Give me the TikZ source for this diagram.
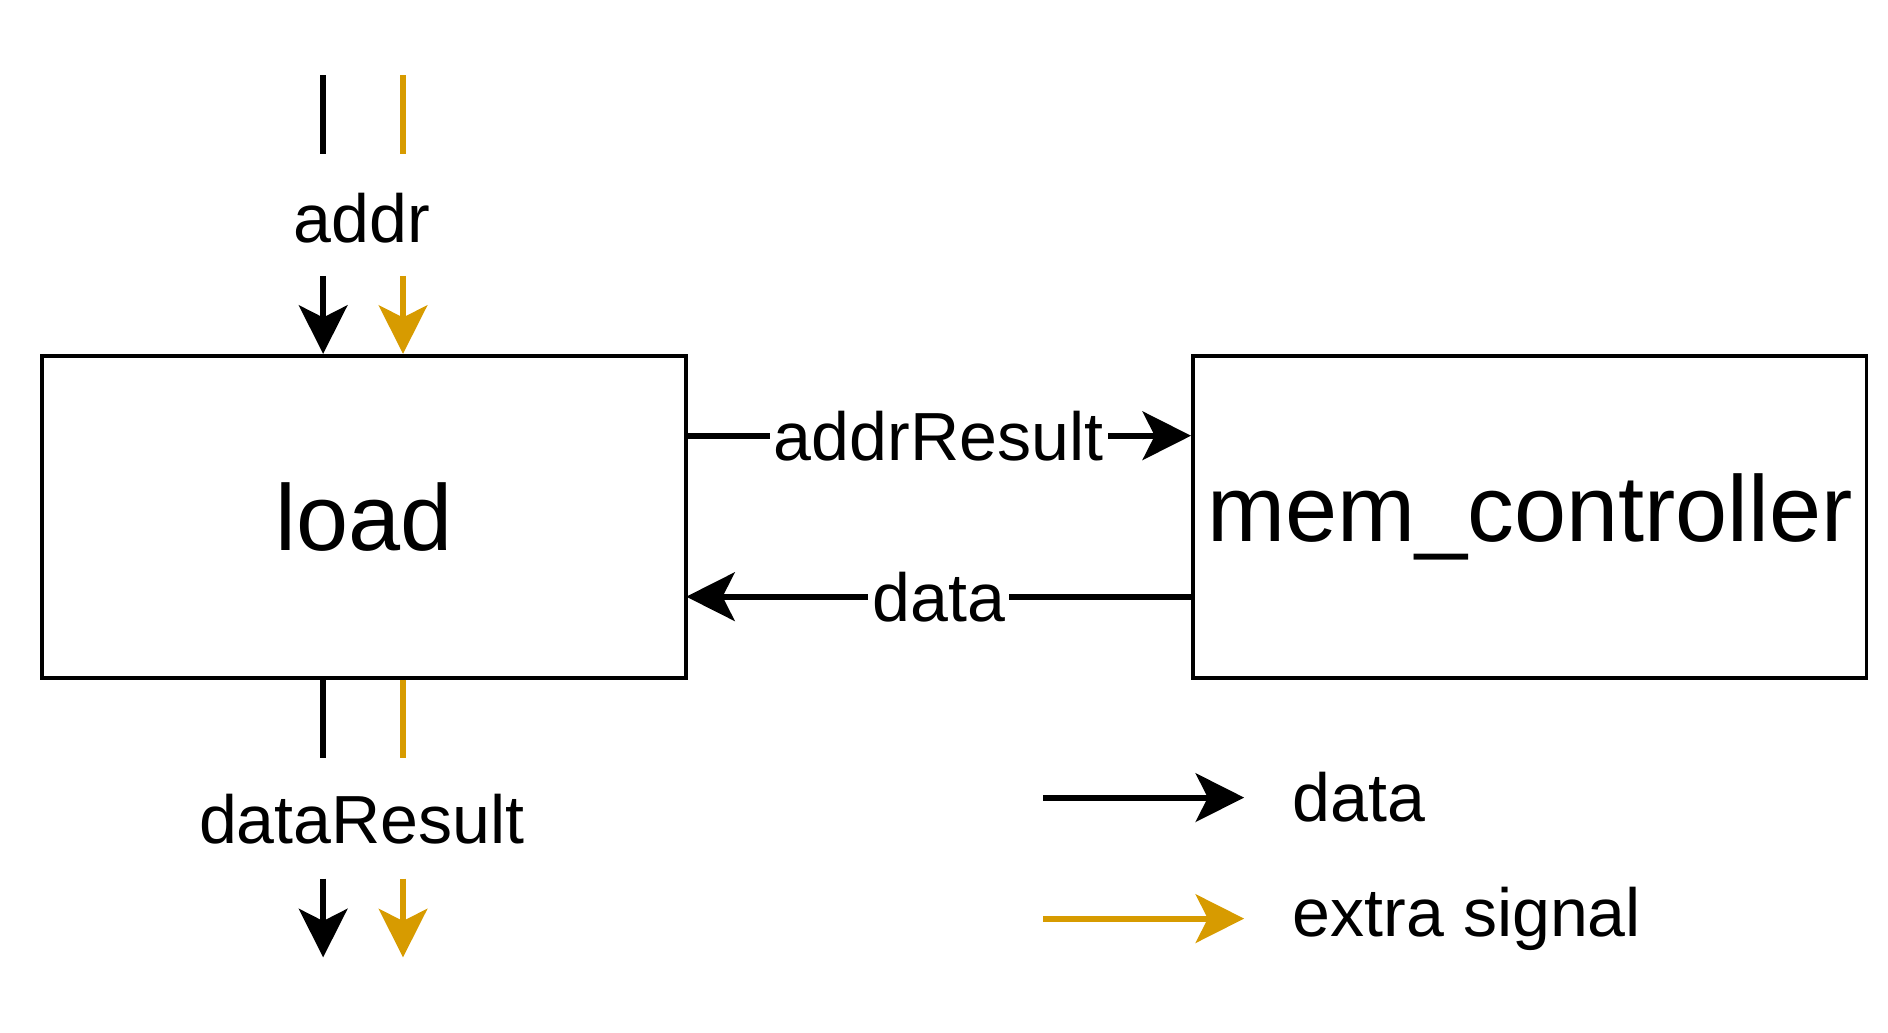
\documentclass[tikz,border=0pt]{standalone}
\usepackage{fontspec}
\setmainfont{Liberation Sans}
\usetikzlibrary{arrows.meta,positioning}
\definecolor{extra}{HTML}{D79B00}
\tikzset{
  block/.style={draw,line width=0.9pt,minimum width=5.32cm,minimum height=2.66cm,font=\fontsize{22}{26}\selectfont},
  sig/.style={line width=1.4pt},
  arr/.style={sig,-{Stealth[length=0.4cm,width=0.4cm,inset=0.1cm]}},
  lbl/.style={font=\fontsize{16}{19}\selectfont,fill=white,inner sep=1pt}
}
\begin{document}
\begin{tikzpicture}[x=0.01cm,y=-0.01cm]
  \useasboundingbox (0,0) rectangle (1560,853);
  \node[block] (load) at (301,427) {load};
  \node[block] (mem) at (1264,427) {mem\_controller};

  % input addr
  \coordinate (a1) at (267,62);  \coordinate (a2) at (267,127);
  \coordinate (a3) at (267,228); \coordinate (b1) at (333,62);
  \coordinate (b2) at (333,127); \coordinate (b3) at (333,228);
  \node[lbl] (addr) at (299,180) {addr};
  \draw[sig] (a1) -- (a2);
  \draw[sig,extra] (b1) -- (b2);
  \draw[arr] (a3) -- (load.north -| a3);
  \draw[arr,extra] (b3) -- (load.north -| b3);

  % output dataResult
  \coordinate (c2) at (267,626); \coordinate (c3) at (267,726);
  \coordinate (c4) at (267,791); \coordinate (d2) at (333,626);
  \coordinate (d3) at (333,726); \coordinate (d4) at (333,791);
  \node[lbl] (dres) at (299,677) {dataResult};
  \draw[sig] (load.south -| c2) -- (c2);
  \draw[sig,extra] (load.south -| d2) -- (d2);
  \draw[arr] (c3) -- (c4);
  \draw[arr,extra] (d3) -- (d4);

  % between blocks
  \coordinate (p) at (567,360); \coordinate (q) at (567,493);
  \draw[arr] (p) -- (mem.west |- p) node[lbl,midway] {addrResult};
  \draw[arr] (mem.west |- q) -- (q) node[lbl,midway] {data};

  % legend
  \coordinate (l1) at (862,659); \coordinate (l2) at (1028,659);
  \coordinate (l3) at (862,759); \coordinate (l4) at (1028,759);
  \draw[arr] (l1) -- (l2);
  \draw[arr,extra] (l3) -- (l4);
  \node[lbl,anchor=west] (ldata) at (1064,659) {data};
  \node[lbl,anchor=west] (lextra) at (1064,759) {extra signal};
\end{tikzpicture}
\end{document}
